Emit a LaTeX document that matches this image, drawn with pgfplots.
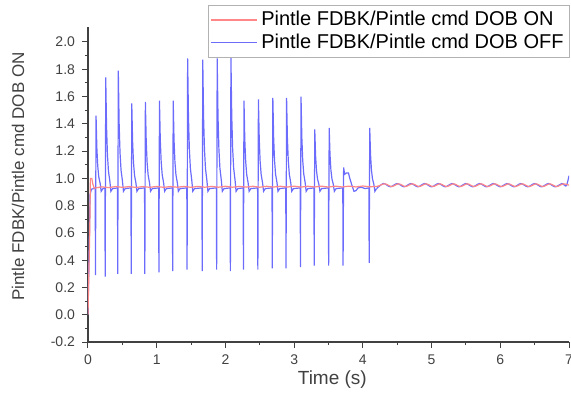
\documentclass[border=0pt]{standalone}
\usepackage{fontspec}
\setmainfont{Liberation Sans}
\usepackage{pgfplots}
\pgfplotsset{compat=1.18}
\definecolor{bluec}{RGB}{108,108,252}
\definecolor{redc}{RGB}{255,135,135}
\definecolor{axc}{RGB}{65,65,65}
\begin{document}
\begin{tikzpicture}
\path[use as bounding box] (-44pt,-27pt) rectangle (241.5pt,171pt);
\begin{axis}[at={(0,0)}, anchor=south west, scale only axis, width=240.5pt, height=157.5pt,
 xmin=0, xmax=7, ymin=-0.2, ymax=2.11,
 axis x line=bottom, axis y line=left, axis line style={-, axc, line width=0.6pt},
 tick align=outside, major tick length=3pt, minor tick length=1.6pt,
 every tick/.style={axc, line width=0.5pt},
 xtick={0,1,2,3,4,5,6,7}, ytick={-0.2,0,0.2,0.4,0.6,0.8,1.0,1.2,1.4,1.6,1.8,2.0},
 minor x tick num=1, minor y tick num=1,
 y tick label style={/pgf/number format/.cd, fixed, fixed zerofill, precision=1},
 /pgf/number format/assume math mode=true,
 tick label style={font=\fontsize{7}{8}\selectfont, color=axc},
 xlabel={Time (s)}, ylabel={Pintle FDBK/Pintle cmd DOB ON},
 every axis x label/.style={at={(axis description cs:0.508,-0.1206)}, anchor=center, font=\fontsize{9.5}{11}\selectfont, color=axc},
 every axis y label/.style={at={(axis description cs:-0.1455,0.525)}, rotate=90, anchor=center, font=\fontsize{8.5}{10}\selectfont, color=axc},
 legend style={at={(axis description cs:1.002,1.07)}, anchor=north east, draw=gray!60, line width=0.4pt, font=\fontsize{10}{10.5}\selectfont, inner sep=1pt, row sep=-1.5pt, cells={anchor=west}},
 legend image code/.code={\draw[#1] (0cm,0cm) -- (0.8cm,0cm);},
]
\addlegendimage{redc, line width=0.6pt}
\addlegendentry{Pintle FDBK/Pintle cmd DOB ON}
\addlegendimage{bluec, line width=0.6pt}
\addlegendentry{Pintle FDBK/Pintle cmd DOB OFF}

\addplot[bluec, line width=0.6pt, forget plot] table {
0 0
0.03 0.88
0.05 0.92
0.08 0.925
0.105 0.93
0.109 0.29
0.117 1.46
0.129 1.222
0.142 1.089
0.157 1.010
0.177 0.962
0.192 0.905
0.217 0.925
0.246 0.93
0.250 0.28
0.258 1.74
0.270 1.376
0.283 1.173
0.298 1.052
0.318 0.979
0.333 0.905
0.358 0.925
0.429 0.93
0.433 0.30
0.441 1.79
0.453 1.403
0.466 1.188
0.481 1.059
0.501 0.982
0.516 0.905
0.541 0.925
0.625 0.93
0.629 0.30
0.637 1.55
0.649 1.271
0.662 1.116
0.677 1.023
0.697 0.967
0.712 0.905
0.737 0.925
0.823 0.93
0.827 0.30
0.835 1.56
0.847 1.277
0.860 1.119
0.875 1.025
0.895 0.968
0.910 0.905
0.935 0.925
1.028 0.93
1.032 0.31
1.040 1.57
1.052 1.282
1.065 1.122
1.080 1.026
1.100 0.968
1.115 0.905
1.140 0.925
1.228 0.93
1.232 0.32
1.240 1.57
1.252 1.282
1.265 1.122
1.280 1.026
1.300 0.968
1.315 0.905
1.340 0.925
1.438 0.93
1.442 0.33
1.450 1.88
1.462 1.453
1.475 1.215
1.490 1.073
1.510 0.987
1.525 0.905
1.550 0.925
1.658 0.93
1.662 0.32
1.670 1.87
1.682 1.447
1.695 1.212
1.710 1.071
1.730 0.986
1.745 0.905
1.770 0.925
1.868 0.93
1.872 0.33
1.880 1.88
1.892 1.453
1.905 1.215
1.920 1.073
1.940 0.987
1.955 0.905
1.980 0.925
2.068 0.93
2.072 0.32
2.080 1.89
2.092 1.458
2.105 1.218
2.120 1.074
2.140 0.988
2.155 0.905
2.180 0.925
2.258 0.93
2.262 0.33
2.270 1.57
2.282 1.282
2.295 1.122
2.310 1.026
2.330 0.968
2.345 0.905
2.370 0.925
2.468 0.93
2.472 0.33
2.480 1.58
2.492 1.288
2.505 1.125
2.520 1.028
2.540 0.969
2.555 0.905
2.580 0.925
2.678 0.93
2.682 0.34
2.690 1.59
2.702 1.293
2.715 1.128
2.730 1.029
2.750 0.970
2.765 0.905
2.790 0.925
2.878 0.93
2.882 0.34
2.890 1.59
2.902 1.293
2.915 1.128
2.930 1.029
2.950 0.970
2.965 0.905
2.990 0.925
3.088 0.93
3.092 0.35
3.100 1.60
3.112 1.299
3.125 1.131
3.140 1.031
3.160 0.970
3.175 0.905
3.200 0.925
3.288 0.93
3.292 0.36
3.300 1.36
3.312 1.167
3.325 1.059
3.340 0.995
3.360 0.956
3.375 0.905
3.400 0.925
3.498 0.93
3.502 0.36
3.510 1.37
3.522 1.172
3.535 1.062
3.550 0.996
3.570 0.956
3.585 0.905
3.610 0.925
3.708 0.93
3.712 0.36
3.720 1.08
3.735 1.03
3.760 1.04
3.790 1.04
3.810 1.00
3.840 0.95
3.870 0.905
3.900 0.91
3.930 0.93
3.980 0.935
4.030 0.925
4.088 0.93
4.092 0.38
4.100 1.37
4.112 1.172
4.125 1.062
4.140 0.996
4.160 0.956
4.175 0.905
4.200 0.925
};
\addplot[bluec, line width=0.6pt, smooth, forget plot] table {
4.20 0.925
4.30 0.962
4.40 0.938
4.50 0.962
4.60 0.938
4.70 0.962
4.80 0.938
4.90 0.962
5.00 0.938
5.10 0.962
5.20 0.938
5.30 0.962
5.40 0.938
5.50 0.962
5.60 0.938
5.70 0.962
5.80 0.938
5.90 0.962
6.00 0.938
6.10 0.962
6.20 0.938
6.30 0.962
6.40 0.938
6.50 0.962
6.60 0.938
6.70 0.962
6.80 0.938
6.90 0.962
6.96 0.945
7.00 1.02
};
\addplot[redc, line width=0.6pt, forget plot] table {
0 0
0.025 0.6
0.035 1.0
0.055 1.0
0.07 0.96
0.09 0.928
0.2 0.938
0.3 0.932
0.4 0.940
0.5 0.934
0.6 0.940
0.7 0.933
0.8 0.940
0.9 0.934
1.0 0.941
1.1 0.934
1.2 0.940
1.3 0.935
1.4 0.941
1.5 0.934
1.6 0.941
1.7 0.935
1.8 0.941
1.9 0.935
2.0 0.942
2.1 0.935
2.2 0.941
2.3 0.936
2.4 0.942
2.5 0.935
2.6 0.942
2.7 0.936
2.8 0.942
2.9 0.936
3.0 0.943
3.1 0.936
3.2 0.942
3.3 0.937
3.4 0.943
3.5 0.936
3.6 0.943
3.7 0.937
3.8 0.943
3.9 0.937
4.0 0.944
4.1 0.938
4.22 0.942
};
\addplot[redc, line width=0.6pt, smooth, forget plot] table {
4.22 0.942
4.32 0.960
4.42 0.940
4.52 0.960
4.62 0.940
4.72 0.960
4.82 0.940
4.92 0.960
5.02 0.940
5.12 0.960
5.22 0.940
5.32 0.960
5.42 0.940
5.52 0.960
5.62 0.940
5.72 0.960
5.82 0.940
5.92 0.960
6.02 0.940
6.12 0.960
6.22 0.940
6.32 0.960
6.42 0.940
6.52 0.960
6.62 0.940
6.72 0.960
6.82 0.940
6.92 0.960
7.00 0.950
};
\end{axis}
\end{tikzpicture}
\end{document}
